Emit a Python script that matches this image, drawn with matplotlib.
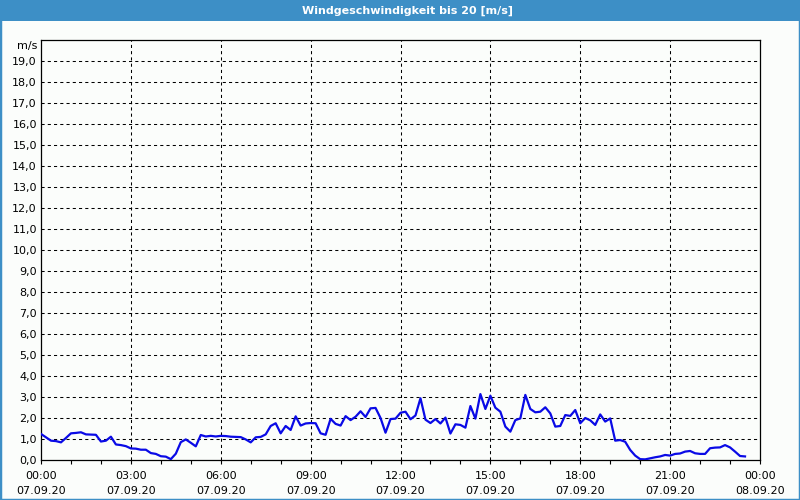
import numpy as np
import matplotlib.pyplot as plt
from matplotlib.patches import Rectangle

# Windgeschwindigkeit, 10-Minuten-Werte ab 07.09.20 00:00
wind = [1.24, 1.08, 0.92, 0.90, 0.84, 1.05, 1.27, 1.29, 1.32, 1.22,
        1.21, 1.20, 0.88, 0.92, 1.11, 0.74, 0.71, 0.66, 0.55, 0.54,
        0.49, 0.49, 0.33, 0.29, 0.18, 0.16, 0.04, 0.30, 0.85, 0.98,
        0.82, 0.65, 1.19, 1.12, 1.15, 1.12, 1.15, 1.14, 1.11, 1.10,
        1.09, 0.98, 0.84, 1.08, 1.10, 1.22, 1.62, 1.75, 1.27, 1.62,
        1.43, 2.08, 1.64, 1.74, 1.76, 1.75, 1.27, 1.20, 1.96, 1.72,
        1.64, 2.09, 1.90, 2.06, 2.32, 2.05, 2.46, 2.48, 2.00, 1.30,
        1.95, 1.97, 2.25, 2.30, 1.94, 2.12, 2.94, 1.92, 1.76, 1.95,
        1.74, 2.02, 1.26, 1.70, 1.67, 1.54, 2.57, 1.97, 3.14, 2.43,
        3.06, 2.49, 2.30, 1.59, 1.35, 1.90, 1.98, 3.10, 2.43, 2.27,
        2.30, 2.51, 2.22, 1.59, 1.62, 2.14, 2.10, 2.38, 1.75, 2.00,
        1.89, 1.67, 2.17, 1.83, 1.98, 0.92, 0.95, 0.87, 0.48, 0.21,
        0.04, 0.03, 0.08, 0.13, 0.17, 0.24, 0.21, 0.29, 0.31, 0.40,
        0.43, 0.32, 0.29, 0.29, 0.56, 0.59, 0.60, 0.71, 0.60, 0.40,
        0.19, 0.17]
step_h = 1 / 6  # 10 Minuten

tick_hours = [0, 3, 6, 9, 12, 15, 18, 21, 24]
tick_labels = ['00:00\n07.09.20', '03:00\n07.09.20', '06:00\n07.09.20',
               '09:00\n07.09.20', '12:00\n07.09.20', '15:00\n07.09.20',
               '18:00\n07.09.20', '21:00\n07.09.20', '00:00\n08.09.20']
y_ticks = list(range(0, 20))
y_labels = ['%d,0' % v for v in y_ticks]

blue = '#3d8fc6'
plt.rcParams['font.family'] = ['DejaVu Sans']

fig = plt.figure(figsize=(8, 5), dpi=100)
fig.patch.set_facecolor('#fbfdfb')

# Rahmen und Titelleiste
fig.patches.append(Rectangle((0, 0), 1, 1, transform=fig.transFigure,
                             fill=False, edgecolor=blue, linewidth=2.5))
fig.patches.append(Rectangle((0, 1 - 21 / 500), 1, 21 / 500, transform=fig.transFigure,
                             facecolor=blue, edgecolor='none'))
fig.text(0.51, 1 - 10.5 / 500, 'Windgeschwindigkeit bis 20 [m/s]', color='white',
         fontsize=8, fontweight='bold', ha='center', va='center')

ax = fig.add_axes([41 / 800, 40 / 500, 719 / 800, 420 / 500])
ax.set_facecolor('#fbfdfb')

x = np.arange(len(wind)) * step_h
ax.plot(x, wind, color='#0a0ae6', linewidth=1.6, zorder=3)

ax.set_xlim(0, 24)
ax.set_ylim(0, 20)
ax.set_xticks(tick_hours)
ax.set_xticklabels(tick_labels, fontsize=8, linespacing=1.6)
ax.set_xticks(range(0, 25), minor=True)
ax.set_yticks(y_ticks)
ax.set_yticklabels(y_labels, fontsize=8)
ax.tick_params(axis='x', which='both', length=3, width=0.8, pad=5)
ax.tick_params(axis='y', length=0, pad=3)

for v in y_ticks[1:]:
    ax.axhline(v, color='black', linewidth=0.75, linestyle=(0, (3, 3)), zorder=1)
for h in tick_hours[1:-1]:
    ax.axvline(h, color='black', linewidth=0.75, linestyle=(0, (3, 3)), zorder=1)

for s in ax.spines.values():
    s.set_linewidth(0.9)

fig.text(37 / 800, 1 - 46 / 500, 'm/s', fontsize=8, ha='right', va='center')

fig.savefig('out.png', dpi=100, facecolor=fig.get_facecolor())
